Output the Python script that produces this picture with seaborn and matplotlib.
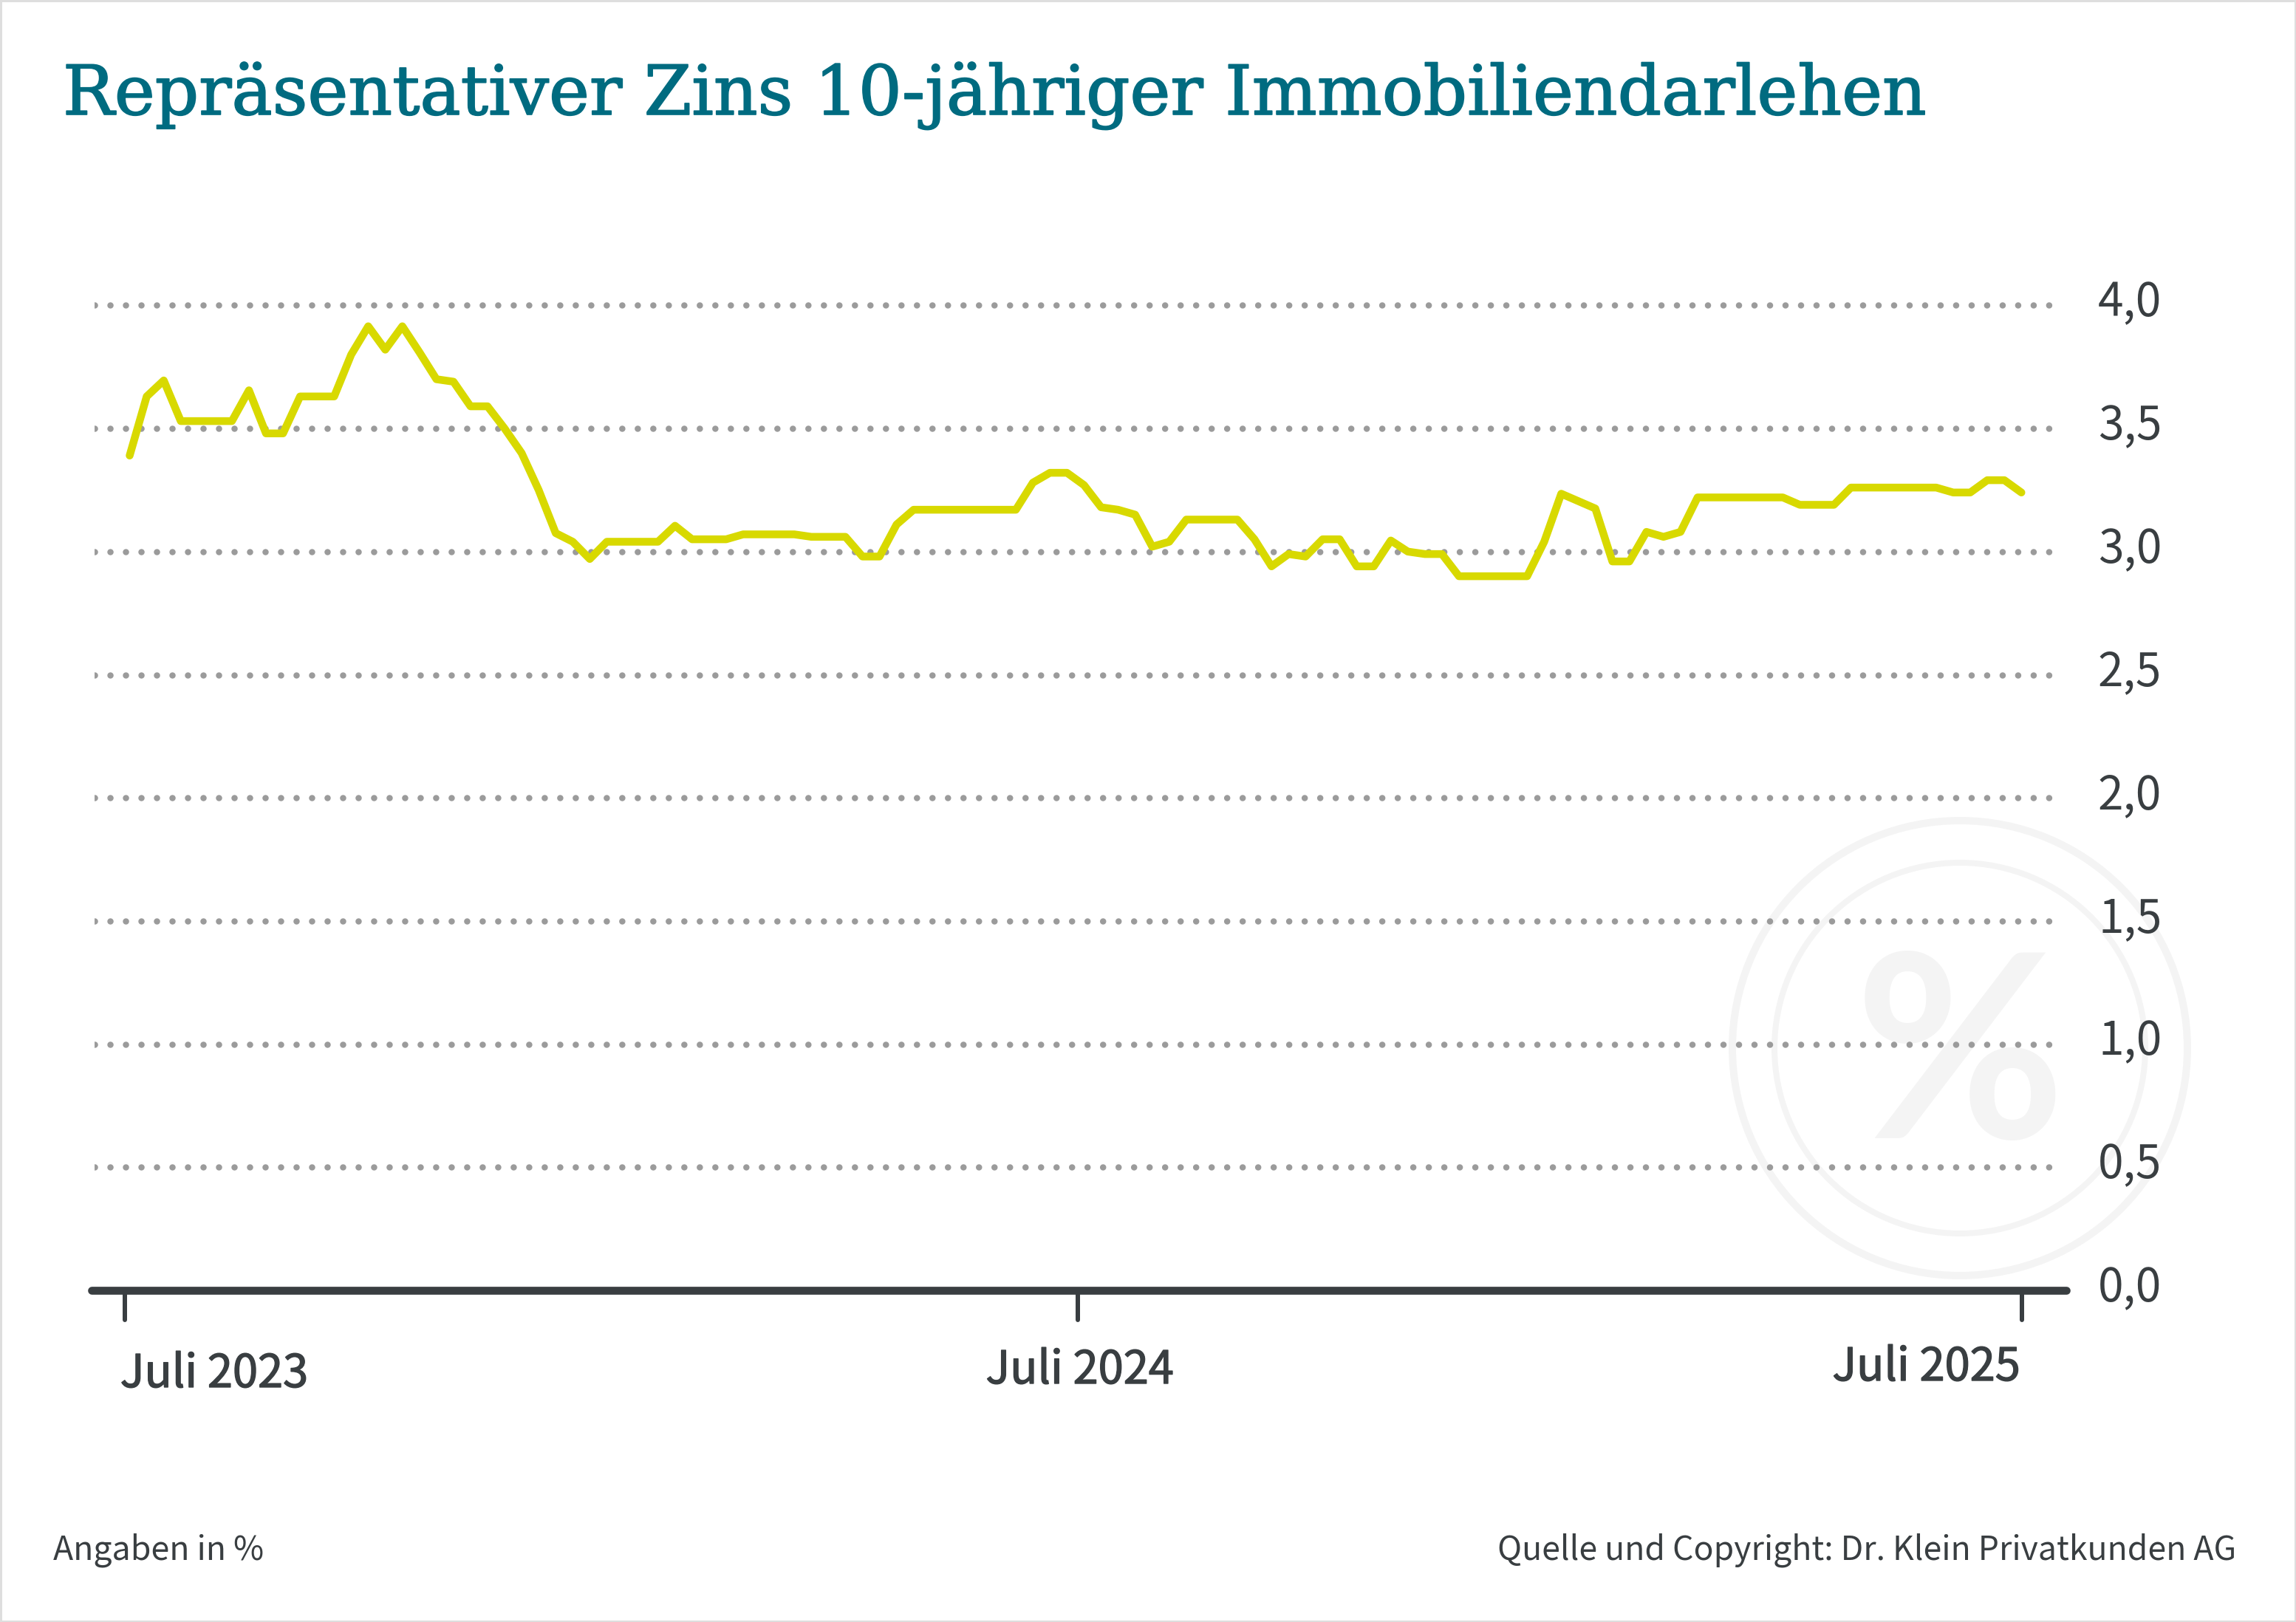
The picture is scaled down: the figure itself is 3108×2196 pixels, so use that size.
import numpy as np
import seaborn as sns
import matplotlib.pyplot as plt
import matplotlib.patheffects as pe
from matplotlib.lines import TICKDOWN
from matplotlib.markers import MarkerStyle
from matplotlib.patches import Circle, Rectangle
from matplotlib.transforms import ScaledTranslation

# Zins in %
zins = [3.39, 3.63, 3.695, 3.53, 3.53, 3.53, 3.53, 3.655, 3.48, 3.48, 3.63, 3.63, 3.63, 3.80,
        3.915, 3.82, 3.915, 3.81, 3.70, 3.69, 3.59, 3.59, 3.50, 3.40, 3.25, 3.075, 3.04, 2.97,
        3.04, 3.04, 3.04, 3.04, 3.105, 3.05, 3.05, 3.05, 3.07, 3.07, 3.07, 3.07, 3.06, 3.06,
        3.06, 2.98, 2.98, 3.11, 3.17, 3.17, 3.17, 3.17, 3.17, 3.17, 3.17, 3.28, 3.32, 3.32,
        3.27, 3.18, 3.17, 3.15, 3.02, 3.04, 3.13, 3.13, 3.13, 3.13, 3.05, 2.94, 2.99, 2.98,
        3.05, 3.05, 2.94, 2.94, 3.045, 3.00, 2.99, 2.99, 2.90, 2.90, 2.90, 2.90, 2.90, 3.04,
        3.235, 3.205, 3.175, 2.96, 2.96, 3.08, 3.06, 3.08, 3.22, 3.22, 3.22, 3.22, 3.22, 3.22,
        3.19, 3.19, 3.19, 3.26, 3.26, 3.26, 3.26, 3.26, 3.26, 3.24, 3.24, 3.29, 3.29, 3.24]
y_ticks = [0, 0.5, 1, 1.5, 2, 2.5, 3, 3.5, 4]
y_labels = ['0,0', '0,5', '1,0', '1,5', '2,0', '2,5', '3,0', '3,5', '4,0']
x_ticks = [-0.295, 55.62, 111.03]
x_labels = ['Juli 2023', 'Juli 2024', 'Juli 2025']

title = 'Repräsentativer Zins 10-jähriger Immobiliendarlehen'
note_left = 'Angaben in %'
note_right = 'Quelle und Copyright: Dr. Klein Privatkunden AG'

TEXT = '#393e41'
W, H = 3108, 2196
DPI = 200
PT = 72 / DPI  # one pixel in points

sns.set_theme(style='white')
plt.rcParams['font.family'] = ['Noto Sans CJK SC', 'DejaVu Sans']

fig = plt.figure(figsize=(W / DPI, H / DPI), dpi=DPI, facecolor='white')

# background layer in pixel coordinates: frame, watermark, free text
bg = fig.add_axes([0, 0, 1, 1])
bg.set_xlim(0, W)
bg.set_ylim(H, 0)
bg.axis('off')
bg.add_patch(Rectangle((0, 0), W, H, fill=False, ec='#dedede', lw=5 * PT))
bg.add_patch(Circle((2653, 1419), 308, fill=False, ec='#f4f4f4', lw=10 * PT))
bg.add_patch(Circle((2653, 1419), 251, fill=False, ec='#f4f4f4', lw=8 * PT))
bg.text(2653, 1441, '%', ha='center', va='center', fontsize=125, color='#f4f4f4',
        family='Lato', fontweight='bold')
bg.text(85, 155, title, color='#006b80', fontsize=33.4, family='DejaVu Serif', va='baseline',
        path_effects=[pe.withStroke(linewidth=0.6, foreground='#006b80')])
bg.text(72, 2112, note_left, color=TEXT, fontsize=16.1, va='baseline')
bg.text(3027, 2112, note_right, color=TEXT, fontsize=16.05, ha='right', va='baseline')

# x axis runs in weeks from the first point, y in percent
x0 = (128 - 175.5) / 23.07
x1 = (2780 - 175.5) / 23.07
ax = fig.add_axes([128 / W, 1 - 1747 / H, (2780 - 128) / W, 1400 / H])
ax.patch.set_alpha(0)
sns.lineplot(x=np.arange(len(zins)), y=zins, color='#d8d900', errorbar=None, ax=ax, zorder=3)
line = ax.lines[0]
line.set_linewidth(10.5 * PT)
line.set_solid_capstyle('round')
line.set_solid_joinstyle('round')
ax.set_xlim(x0, x1)
ax.set_ylim(0, 1400 / 333.4)
ax.set_xlabel('')
ax.set_ylabel('')

ax.set_yticks(y_ticks, y_labels)
ax.yaxis.tick_right()
ax.grid(axis='y', color='#9b9b9b', lw=8.5 * PT, linestyle=(0, (0.01, 2.46)), dash_capstyle='round')
ax.yaxis.get_gridlines()[0].set_visible(False)
ax.tick_params(axis='y', length=0, pad=60 * PT, labelsize=22.4, labelcolor=TEXT)
for lab in ax.get_yticklabels():
    lab.set_transform(lab.get_transform() + ScaledTranslation(0, 10 / DPI, fig.dpi_scale_trans))

ax.set_xticks(x_ticks, x_labels)
ax.tick_params(axis='x', bottom=True, length=40 * PT, width=6 * PT, color=TEXT, pad=86 * PT,
               labelsize=22.1, labelcolor=TEXT)
offsets = [(-6, -5, 'left'), (3, 0, 'center'), (-2, 4, 'right')]
for tick, lab, (dx, dy, ha) in zip(ax.xaxis.get_major_ticks(), ax.get_xticklabels(), offsets):
    tick.tick1line.set_marker(MarkerStyle(TICKDOWN, capstyle='round'))
    lab.set_ha(ha)
    lab.set_va('baseline')
    lab.set_path_effects([pe.withStroke(linewidth=0.5, foreground=TEXT)])
    lab.set_transform(lab.get_transform() + ScaledTranslation(dx / DPI, dy / DPI, fig.dpi_scale_trans))

for side in ['top', 'left', 'right']:
    ax.spines[side].set_visible(False)
base = ax.spines['bottom']
base.set_color(TEXT)
base.set_linewidth(10.7 * PT)
base.set_capstyle('round')
base.set_bounds((124 - 175.5) / 23.07, (2797 - 175.5) / 23.07)
base.set_zorder(4)

fig.savefig('out.png', dpi=DPI)
